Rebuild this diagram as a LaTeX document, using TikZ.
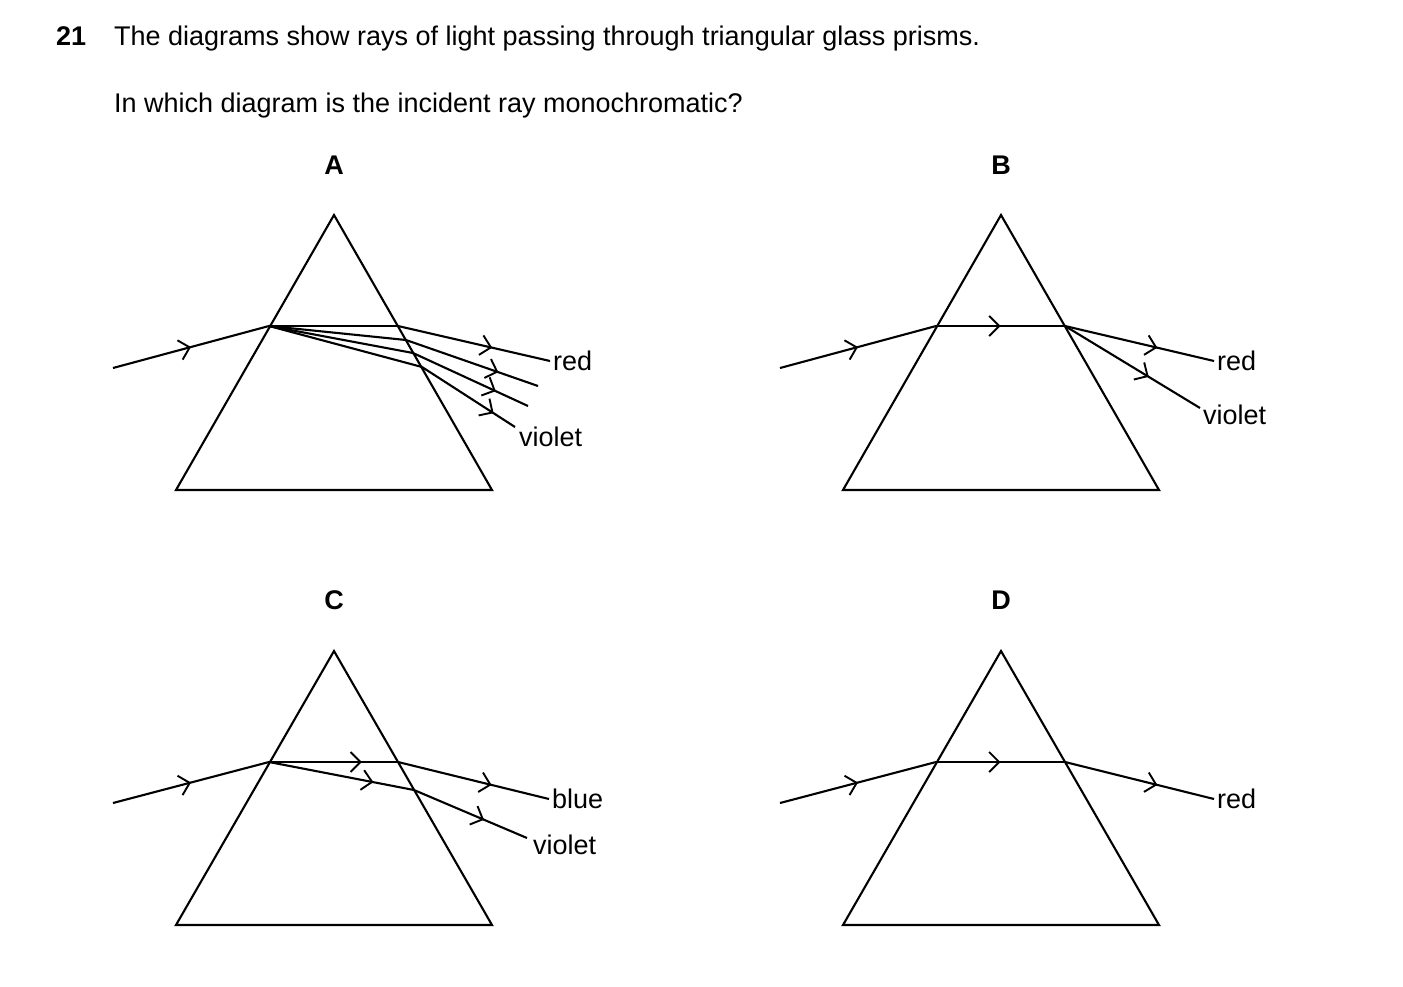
\documentclass[tikz,border=0pt]{standalone}
\usepackage{fontspec}
\setmainfont{Liberation Sans}
\usetikzlibrary{decorations.markings,arrows.meta}
\begin{document}
\begin{tikzpicture}[x=1pt,y=-1pt,line width=2.1pt,
  ray/.style={postaction={decorate},decoration={markings,mark=at position #1 with {\arrow{Straight Barb[length=10pt,width=20pt,line width=1.9pt]}}}},
  ray/.default=0.5,
  lab/.style={font=\fontsize{27}{32}\selectfont,anchor=west,inner sep=2pt},
  txt/.style={font=\fontsize{27}{32}\selectfont,anchor=base west,inner sep=0pt},
  let/.style={font=\fontsize{27}{32}\selectfont\bfseries,inner sep=0pt}]
\useasboundingbox (0,0) rectangle (1403,986);
\node[txt,font=\fontsize{27}{32}\selectfont\bfseries] (q) at (55,45) {21};
\node[txt] (t1) at (113,45) {The diagrams show rays of light passing through triangular glass prisms.};
\node[txt] (t2) at (113,112) {In which diagram is the incident ray monochromatic?};
\node[let] (lA) at (334,165) {A};
\node[let] (lB) at (1001,165) {B};
\node[let] (lC) at (334,600) {C};
\node[let] (lD) at (1001,600) {D};
% prisms
\draw (334,215) -- (492,490) -- (176,490) -- cycle;
\draw (1001,215) -- (1159,490) -- (843,490) -- cycle;
\draw (334,651) -- (492,925) -- (176,925) -- cycle;
\draw (1001,651) -- (1159,925) -- (843,925) -- cycle;
% A
\coordinate (a0) at (113,368); \coordinate (a1) at (269,326);
\draw[ray] (a0) -- (a1);
\coordinate (ar) at (398,326); \coordinate (a2) at (406,340); \coordinate (a3) at (413,353); \coordinate (a4) at (422,367);
\draw (a1) -- (ar); \draw (a1) -- (a2); \draw (a1) -- (a3); \draw (a1) -- (a4);
\node[lab] (red1) at (550,361) {red};
\node[lab] (vio1) at (516,437) {violet};
\draw[ray=0.62] (ar) -- (red1.west);
\coordinate (e2) at (538,386); \coordinate (e3) at (528,406); \coordinate (e4) at (515,427);
\draw[ray=0.7] (a2) -- (e2); \draw[ray=0.72] (a3) -- (e3); \draw[ray=0.77] (a4) -- (e4);
% B
\coordinate (b0) at (780,368); \coordinate (b1) at (936,326); \coordinate (b2) at (1065,326);
\draw[ray] (b0) -- (b1); \draw[ray] (b1) -- (b2);
\node[lab] (red2) at (1214,361) {red};
\node[lab] (vio2) at (1200,415) {violet};
\coordinate (be) at (1200,408);
\draw[ray=0.62] (b2) -- (red2.west); \draw[ray=0.62] (b2) -- (be);
% C
\coordinate (c0) at (113,803); \coordinate (c1) at (269,762); \coordinate (c2) at (398,762); \coordinate (c3) at (414,790);
\draw[ray] (c0) -- (c1); \draw[ray=0.72] (c1) -- (c2); \draw[ray=0.72] (c1) -- (c3);
\node[lab] (blue3) at (549,799) {blue};
\node[lab] (vio3) at (530,845) {violet};
\coordinate (ce) at (527,838);
\draw[ray=0.62] (c2) -- (blue3.west); \draw[ray=0.62] (c3) -- (ce);
% D
\coordinate (d0) at (780,803); \coordinate (d1) at (936,762); \coordinate (d2) at (1065,762);
\draw[ray] (d0) -- (d1); \draw[ray] (d1) -- (d2);
\node[lab] (red4) at (1214,799) {red};
\draw[ray=0.62] (d2) -- (red4.west);
\end{tikzpicture}
\end{document}
